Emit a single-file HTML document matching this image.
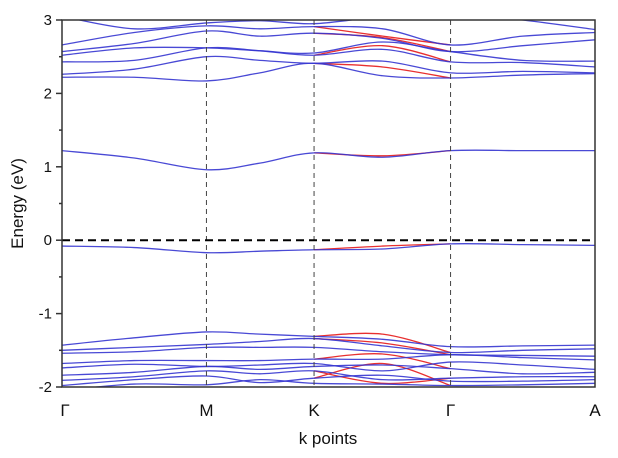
<!DOCTYPE html>
<html><head><meta charset="utf-8"><style>
body{margin:0;background:#fff}
svg{display:block;font-family:"Liberation Sans",Arial,sans-serif}
</style></head><body>
<svg id="chart" width="618" height="458" viewBox="0 0 618 458">
<defs><clipPath id="clip"><rect x="62" y="20" width="533" height="367"/></clipPath></defs>
<g id="bands" clip-path="url(#clip)"></g>
<g id="axes"></g>
</svg>
<script>
const kLabels = ["Γ","M","K","Γ","A"];
const kPos = [0, 1, 1.745, 2.69, 3.69];
const kSamples = [0, 0.5, 1, 1.37, 1.745, 2.22, 2.69, 3.19, 3.69];
const yTicks = [3, 2, 1, 0, -1, -2];
const blueBands = [
 [1.22,1.12,0.96,1.05,1.19,1.13,1.22,1.22,1.22],
 [2.22,2.22,2.17,2.28,2.41,2.24,2.21,2.25,2.27],
 [2.26,2.33,2.50,2.45,2.41,2.44,2.28,2.30,2.28],
 [2.43,2.45,2.62,2.58,2.52,2.60,2.43,2.42,2.36],
 [2.52,2.62,2.62,2.58,2.55,2.70,2.57,2.45,2.44],
 [2.57,2.68,2.85,2.78,2.82,2.75,2.57,2.65,2.73],
 [2.66,2.83,2.92,2.88,2.91,2.88,2.66,2.78,2.83],
 [3.05,2.88,2.96,2.99,2.95,3.05,3.1,3.0,2.87],
 [-0.08,-0.10,-0.17,-0.15,-0.13,-0.12,-0.05,-0.06,-0.07],
 [-1.43,-1.33,-1.25,-1.28,-1.31,-1.35,-1.45,-1.44,-1.43],
 [-1.50,-1.46,-1.42,-1.38,-1.34,-1.44,-1.53,-1.50,-1.48],
 [-1.54,-1.52,-1.46,-1.46,-1.46,-1.52,-1.56,-1.57,-1.58],
 [-1.68,-1.64,-1.64,-1.64,-1.62,-1.62,-1.56,-1.60,-1.63],
 [-1.74,-1.69,-1.72,-1.70,-1.68,-1.78,-1.66,-1.70,-1.76],
 [-1.84,-1.80,-1.72,-1.76,-1.72,-1.70,-1.75,-1.82,-1.80],
 [-1.91,-1.86,-1.78,-1.82,-1.78,-1.90,-1.88,-1.86,-1.86],
 [-1.98,-1.90,-1.85,-1.94,-1.88,-1.84,-1.92,-1.92,-1.90],
 [-2.05,-1.96,-1.97,-1.90,-1.95,-1.96,-1.98,-1.97,-1.95]
];
const redBands = [
 [1.19,1.15,1.22],
 [-0.13,-0.08,-0.05],
 [2.52,2.65,2.43],
 [2.41,2.36,2.21],
 [2.82,2.76,2.57],
 [2.91,2.78,2.66],
 [-1.31,-1.28,-1.53],
 [-1.34,-1.40,-1.56],
 [-1.62,-1.55,-1.75],
 [-1.88,-1.68,-1.98],
 [-1.78,-1.95,-1.88]
];
const X0=62, X1=595, Y0=20, Y1=387, EMIN=-2, EMAX=3;
const xS = k => X0 + (k - kPos[0])/(kPos[kPos.length-1]-kPos[0])*(X1-X0);
const yS = e => Y1 - (e-EMIN)/(EMAX-EMIN)*(Y1-Y0);
const NS="http://www.w3.org/2000/svg";
function mk(tag, attrs, parent){const el=document.createElementNS(NS,tag);for(const a in attrs)el.setAttribute(a,attrs[a]);parent.appendChild(el);return el;}
function smooth(pts){
 let d=`M${pts[0][0]},${pts[0][1]}`;
 for(let i=0;i<pts.length-1;i++){
  const p0=pts[Math.max(0,i-1)],p1=pts[i],p2=pts[i+1],p3=pts[Math.min(pts.length-1,i+2)];
  const c1=[p1[0]+(p2[0]-p0[0])/6,p1[1]+(p2[1]-p0[1])/6];
  const c2=[p2[0]-(p3[0]-p1[0])/6,p2[1]-(p3[1]-p1[1])/6];
  d+=` C${c1[0]},${c1[1]} ${c2[0]},${c2[1]} ${p2[0]},${p2[1]}`;
 }
 return d;
}
const bands=document.getElementById('bands');
const axes=document.getElementById('axes');
redBands.forEach(b=>{
 const pts=b.map((e,i)=>[xS(kSamples[i+4]),yS(e)]);
 const p=mk('path',{d:smooth(pts),fill:'none',stroke:'#e83030','stroke-width':1.3},bands);
 
 
});
blueBands.forEach(b=>{
 const pts=b.map((e,i)=>[xS(kSamples[i]),yS(e)]);
 const p=mk('path',{d:smooth(pts),fill:'none',stroke:'#3535d0','stroke-width':1.3,'stroke-opacity':0.9},bands);
 
 
});
kPos.slice(1,-1).forEach(k=>{
 const l=mk('line',{x1:xS(k),x2:xS(k),y1:Y0,y2:Y1,stroke:'#444','stroke-width':1,'stroke-dasharray':'5,4'},axes);
 
 
});
const f=mk('line',{x1:X0,x2:X1,y1:yS(0),y2:yS(0),stroke:'#000','stroke-width':2,'stroke-dasharray':'8,5'},axes);


const fr=mk('rect',{x:X0,y:Y0,width:X1-X0,height:Y1-Y0,fill:'none',stroke:'#333','stroke-width':1.5},axes);


yTicks.forEach(v=>{
 const t=mk('line',{x1:X0-6,x2:X0,y1:yS(v),y2:yS(v),stroke:'#333','stroke-width':1.5},axes);
 
 
 const tx=mk('text',{x:X0-10,y:yS(v)+5,'text-anchor':'end','font-size':15,fill:'#111'},axes);
 tx.textContent=String(v);
 
 
 if(v>EMIN){const m=mk('line',{x1:X0-3,x2:X0,y1:yS(v-0.5),y2:yS(v-0.5),stroke:'#333','stroke-width':1.5},axes);
 
 }
});
kPos.forEach((k,i)=>{
 const tx=mk('text',{x:xS(k)+(i===0?3:0),y:416,'text-anchor':'middle','font-size':17,fill:'#111'},axes);
 tx.textContent=kLabels[i];
 
 
});
const xt=mk('text',{x:328,y:444,'text-anchor':'middle','font-size':17,fill:'#111'},axes);
xt.textContent='k points';


const yt=mk('text',{x:0,y:0,'text-anchor':'middle','font-size':17,fill:'#111',transform:`translate(23,${yS(0.5)}) rotate(-90)`},axes);
yt.textContent='Energy (eV)';


</script>
</body></html>
